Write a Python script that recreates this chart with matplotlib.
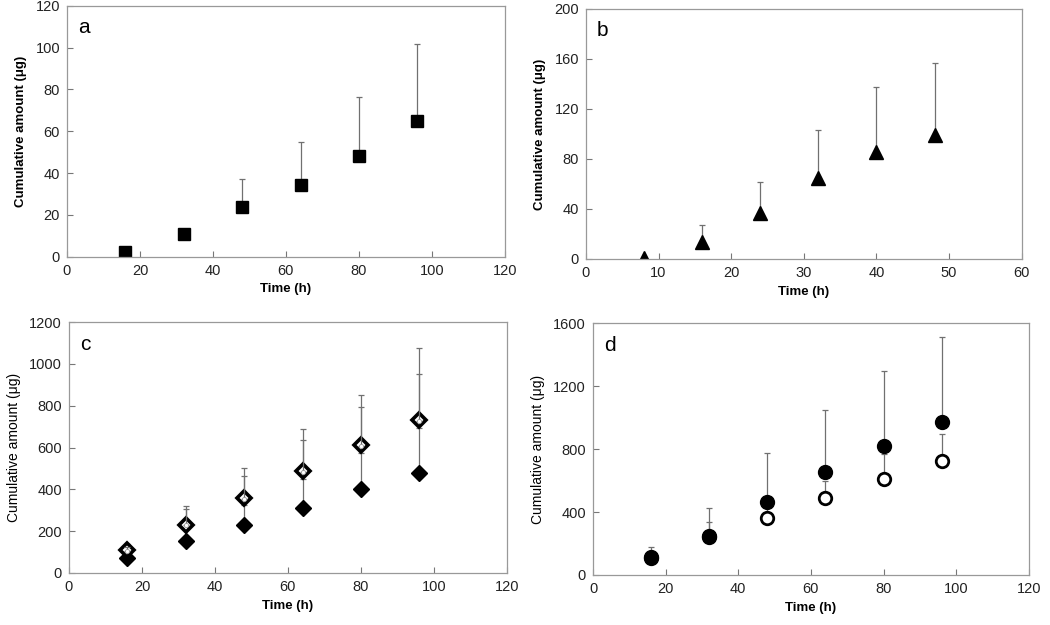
import matplotlib
matplotlib.use("Agg")
import matplotlib.pyplot as plt
import numpy as np

plt.rcParams["font.family"] = ["Liberation Sans", "DejaVu Sans"]

# panel a
t_a = [16, 32, 48, 64, 80, 96]
y_a = [2.5, 11, 24, 34.5, 48, 65]
top_a = [2.5, 11, 37, 55, 76.5, 101.5]

# panel b
t_b = [8, 16, 24, 32, 40, 48]
y_b = [1, 14, 37, 65, 86, 99]
top_b = [1, 27, 62, 103, 138, 157]

# panel c: three formulations
t_c = [16, 32, 48, 64, 80, 96]
y_c_fill = [72, 151, 228, 312, 400, 480]
top_c_fill = [95, 215, 326, 448, 572, 691]
y_c_open = [108, 230, 358, 487, 612, 730]
top_c_open = [140, 318, 502, 687, 850, 1076]
y_c_circ = [104, 228, 355, 483, 608, 726]
top_c_circ = [125, 305, 466, 636, 795, 950]

# panel d
t_d = [16, 32, 48, 64, 80, 96]
y_d_fill = [116, 247, 465, 655, 822, 972]
top_d_fill = [180, 423, 776, 1050, 1293, 1511]
y_d_open = [106, 239, 363, 486, 607, 725]
top_d_open = [150, 334, 450, 600, 767, 898]

fig = plt.figure(figsize=(10.5, 6.25), dpi=100)
axa = fig.add_axes([0.0638, 0.589, 0.417, 0.402])
axb = fig.add_axes([0.558, 0.5856, 0.415, 0.40])
axc = fig.add_axes([0.0657, 0.0832, 0.417, 0.4016])
axd = fig.add_axes([0.5648, 0.080, 0.415, 0.403])

ERR = dict(ecolor="#707070", elinewidth=0.9, capsize=2.5, capthick=0.9,
           linestyle="none", marker="none")


def upper(y, top):
    y = np.asarray(y, float)
    return [np.zeros_like(y), np.asarray(top, float) - y]


def series(ax, t, y, top, **mk):
    ax.errorbar(t, y, yerr=upper(y, top), **ERR)
    ax.plot(t, y, linestyle="none", **mk)


series(axa, t_a, y_a, top_a, marker="s", ms=9, mfc="black", mec="black")
series(axb, t_b, y_b, top_b, marker="^", ms=10, mfc="black", mec="black")
series(axc, t_c, y_c_fill, top_c_fill, marker="D", ms=8, mfc="black", mec="black")
series(axc, t_c, y_c_open, top_c_open, marker="D", ms=7, mfc="white", mec="black", mew=2.6)
series(axc, t_c, y_c_circ, top_c_circ, marker="o", ms=3, mfc="white", mec="#999999", mew=0.6)
series(axd, t_d, y_d_open, top_d_open, marker="o", ms=9, mfc="white", mec="black", mew=2)
series(axd, t_d, y_d_fill, top_d_fill, marker="o", ms=10, mfc="black", mec="black")

setup = [
    (axa, "a", 120, 20, 120, 20, "bold"),
    (axb, "b", 60, 10, 200, 40, "bold"),
    (axc, "c", 120, 20, 1200, 200, "normal"),
    (axd, "d", 120, 20, 1600, 400, "normal"),
]
for ax, letter, xmax, xstep, ymax, ystep, yw in setup:
    ax.set_xlim(0, xmax)
    ax.set_ylim(0, ymax)
    ax.set_xticks(np.arange(0, xmax + 1, xstep))
    ax.set_yticks(np.arange(0, ymax + 1, ystep))
    ax.tick_params(direction="in", length=4, width=0.8, color="#777777",
                   labelsize=10.5, labelcolor="#222222", pad=5)
    for s in ax.spines.values():
        s.set_color("#999999")
        s.set_linewidth(0.9)
    ax.set_xlabel("Time (h)", fontsize=9.5, fontweight="bold", labelpad=4)
    ax.set_ylabel("Cumulative amount (\u03bcg)", fontsize=9.5 if yw == "bold" else 10,
                  fontweight=yw, labelpad=6)
    ax.text(0.025, 0.95, letter, transform=ax.transAxes, fontsize=15,
            va="top", ha="left")

fig.savefig("out.png", dpi=100)
